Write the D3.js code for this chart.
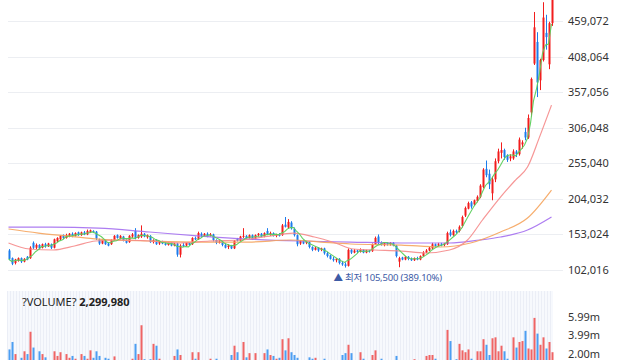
<!DOCTYPE html>
<html><head><meta charset="utf-8">
<script src="https://cdn.jsdelivr.net/npm/d3@7"></script>
<style>body{margin:0;background:#fff}svg{display:block}</style>
</head><body>
<svg id="chart" width="640" height="360"></svg>
<script>
// Daily candles [open, high, low, close], in thousands of KRW
const PRICE_UNIT = 1000;
const candles = [
[130,132,116,118],[119,120,109,111],[112,118,110,117],[115,120,114,119],[119,120,112,114],
[114,119,113,118],[121,122,116,117],[119,136,118,134],[141,143,132,134],[134,140,132,138],
[138,139,131,133],[134,140,133,139],[139,141,134,136],[136,141,135,140],[139,140,132,134],
[134,147,133,146],[143,149,142,148],[146,152,145,151],[152,153,146,148],[148,154,147,152],
[151,155,149,154],[154,156,149,151],[151,156,150,155],[156,157,151,152],[152,157,151,156],
[156,158,152,153],[153,160,152,158],[156,160,155,159],[158,159,155,157],[157,158,145,147],
[146,147,138,140],[140,146,139,145],[145,146,138,139],[140,142,136,137],[139,146,138,145],
[145,152,144,151],[152,153,147,148],[147,152,146,151],[150,151,143,144],[145,146,140,141],
[142,152,141,151],[150,155,148,153],[158,162,146,148],[148,153,147,152],[150,166,148,154],
[154,155,149,150],[149,153,147,152],[151,152,141,142],[142,146,140,145],[145,146,138,139],
[140,144,138,143],[143,144,139,140],[140,142,137,138],[138,142,137,141],[141,142,136,137],
[137,141,136,140],[140,141,121,124],[124,139,120,137],[138,141,135,136],[137,142,136,141],
[141,142,137,138],[139,149,138,148],[148,150,145,146],[146,157,145,155],[154,156,149,151],
[151,155,150,154],[154,156,149,150],[151,155,150,153],[153,154,143,145],[145,146,139,141],
[141,145,140,143],[143,144,136,138],[138,140,133,134],[135,139,132,137],[137,138,132,133],
[133,145,132,144],[147,148,143,144],[144,151,143,150],[150,162,148,151],[151,152,147,148],
[148,153,147,152],[152,153,145,146],[147,153,146,152],[152,155,150,154],[154,155,149,150],
[150,156,149,155],[158,162,152,153],[153,157,151,155],[155,156,150,151],[151,154,149,153],
[153,155,150,151],[152,168,151,166],[167,178,163,164],[163,175,161,171],[170,172,160,162],
[161,163,150,152],[152,153,136,139],[140,145,138,144],[144,145,139,140],[141,144,139,143],
[142,143,133,135],[135,136,129,131],[131,135,130,134],[134,135,128,130],[131,134,129,133],
[133,134,124,126],[126,128,120,122],[123,124,117,118],[118,121,114,116],[116,119,113,118],
[118,119,110,112],[112,115,108,110],[110,113,105.5,108],[108,133,107,131],[131,132,125,127],
[127,132,126,130],[130,131,126,128],[128,133,127,131],[131,132,126,127],[127,131,126,130],
[130,131,127,129],[129,140,128,139],[139,150,138,148],[150,153,139,141],[141,143,137,138],
[138,142,136,141],[141,142,137,139],[139,142,137,141],[141,142,136,137],[137,138,120,122],
[114,121,106,119],[120,121,116,117],[117,122,116,121],[121,122,116,118],[118,120,115,116],
[116,120,115,119],[119,121,116,117],[117,123,116,122],[122,129,121,127],[127,132,126,130],
[130,135,129,134],[133,141,132,139],[139,140,135,136],[137,141,136,139],[139,141,136,138],
[138,141,136,140],[139,157,138,155],[156,160,150,152],[152,160,151,158],[158,160,154,156],
[158,166,156,164],[165,180,163,178],[180,193,178,191],[190,200,189,198],[199,201,190,193],
[196,203,194,202],[201,209,199,207],[207,225,205,223],[221,248,219,246],[247,259,235,238],
[240,246,218,225],[212,236,202,232],[232,262,228,258],[258,276,255,272],[270,285,262,274],
[274,276,260,264],[266,268,257,260],[262,268,258,265],[262,275,260,272],[272,274,264,268],
[268,292,266,289],[282,288,276,285],[300,306,288,292],[292,325,290,320],[328,378,322,376],
[398,472,396,450],[429,443,350,371],[374,405,360,403],[403,486,401,464],[442,468,418,436],
[397,458,390,456],[456,522,452,516]
];

// Daily volume, millions of shares
const volumes = [
2.6,3.4,2.1,1.2,1.7,2.4,2.1,4.5,2.8,1.3,
2.4,2.1,1.75,1.1,1.3,2.4,1.9,2.3,1.2,2.1,
1.7,1.9,1.6,1.2,2.1,1.9,1.6,2.5,1.7,2.4,
1.9,1.3,1.7,1.6,1.2,1.85,1.1,1.3,1.2,1.0,
1.4,1.6,3.2,2.1,5.2,1.55,1.3,1.55,3.2,3.0,
1.6,1.2,1.0,1.1,1.3,1.9,2.6,2.0,1.2,1.1,
1.3,2.3,1.6,2.3,1.2,1.0,1.1,1.6,1.3,1.6,
1.2,1.1,1.3,1.2,2.0,3.0,2.3,1.3,3.4,1.75,
2.2,1.3,2.2,1.1,1.2,2.2,2.6,2.0,1.9,1.6,
1.7,3.7,2.5,3.8,2.3,2.0,1.7,1.2,1.1,1.3,
1.75,1.6,1.7,1.2,1.1,1.6,1.3,1.2,1.1,1.0,
1.2,2.0,2.2,3.1,2.2,1.3,1.2,2.3,1.6,1.1,
1.2,2.0,2.5,1.4,1.6,1.2,1.1,1.0,1.3,1.9,
1.4,1.1,1.0,1.2,1.1,1.55,1.0,1.3,1.4,1.9,
2.0,2.0,1.6,1.3,1.2,1.4,4.7,3.5,1.4,1.55,
3.2,2.5,2.3,2.6,1.6,1.4,2.4,2.4,3.7,3.1,
2.0,3.8,3.9,2.4,3.0,2.4,1.6,1.4,3.9,2.8,
3.4,3.5,4.6,2.7,2.6,5.99,4.3,3.1,3.9,2.7,
3.4,2.29998
];

// Moving averages: [candle index, value in thousands]
const ma20Idx = [0,7,15,22,29,37,47,57,67,77,87,95,102,109,115,122,131,139,147,153,158,164,169,173,177,181];
const ma20Val = [140.7,132.1,130.7,136.4,143.6,145.0,143.6,140.7,143.6,145.0,150.7,155.0,149.3,140.7,132.1,130.7,129.2,126.4,130.7,145.0,173.7,206.6,231.0,249.6,292.6,338.4];
const ma60Idx = [0,10,20,30,47,64,80,94,104,114,131,144,154,164,173,181];
const ma60Val = [160.8,155.0,150.7,146.4,143.6,142.1,142.1,145.0,142.1,139.3,137.8,135.0,140.7,156.5,176.5,216.6];
const ma120Idx = [0,14,30,47,64,80,97,114,131,147,157,164,173,181];
const ma120Val = [163.6,163.6,162.2,156.5,150.7,146.4,143.6,142.1,140.7,140.7,145.0,149.3,159.3,178.0];

const priceTicks = [102016,153024,204032,255040,306048,357056,408064,459072];

const svg = d3.select("#chart");
const RED = "#f21d1d", BLUE = "#1c7cec";

const x = d3.scaleBand().domain(d3.range(candles.length)).range([7, 553]);
const cx = i => x(i) + x.bandwidth() / 2;
const y = d3.scaleLinear().domain([102016, 459072]).range([270, 21]);
const yp = v => y(v * PRICE_UNIT);
const maxVol = d3.max(volumes);
const yv = d3.scaleLinear().domain([0, maxVol]).range([373.6, 317.9]);

// price grid
svg.append("g").selectAll("line").data(priceTicks).join("line")
  .attr("x1", 8).attr("x2", 563)
  .attr("y1", d => Math.round(y(d)) + 0.5).attr("y2", d => Math.round(y(d)) + 0.5)
  .attr("stroke", "#eceef2").attr("stroke-width", 1);

// price axis labels
const ax = svg.append("g").attr("transform", "translate(564,0)")
  .call(d3.axisRight(y).tickValues(priceTicks).tickSize(0).tickPadding(4).tickFormat(d3.format(",")));
ax.select(".domain").remove();
ax.selectAll("text").attr("font-family", "Noto Sans, sans-serif").attr("font-size", 11).attr("fill", "#333");

// volume panel
const vp = svg.append("g");
vp.append("rect").attr("x", 8).attr("y", 291).attr("width", 545).attr("height", 69).attr("fill", "#f7f9fd");
vp.selectAll("line.stripe").data(d3.range(candles.length)).join("line").attr("class", "stripe")
  .attr("x1", i => Math.round(x(i)) + 0.5).attr("x2", i => Math.round(x(i)) + 0.5)
  .attr("y1", 291).attr("y2", 360).attr("stroke", "#ebeef6").attr("stroke-width", 1);
vp.selectAll("rect.vol").data(volumes).join("rect").attr("class", "vol")
  .attr("x", (d, i) => Math.round(cx(i)) - 0.5).attr("width", 2)
  .attr("y", d => yv(d)).attr("height", d => yv(0) - yv(d))
  .attr("fill", (d, i) => candles[i][3] >= candles[i][0] ? "#f06464" : "#4c9ef2");

const volTicks = [1, 2, 3].map(k => maxVol * k / 3);
svg.append("g").selectAll("text").data(volTicks).join("text")
  .attr("x", 568).attr("y", d => yv(d) - 1).attr("dy", "0.35em")
  .attr("font-family", "Noto Sans, sans-serif").attr("font-size", 11).attr("fill", "#333")
  .text(d => d.toFixed(2) + "m");

const vt = svg.append("text").attr("x", 22).attr("y", 306)
  .attr("font-family", "Noto Sans, sans-serif").attr("font-size", 11).attr("fill", "#222");
vt.append("tspan").text("?VOLUME? ");
vt.append("tspan").attr("font-weight", "bold").text(d3.format(",")(Math.round(volumes[volumes.length - 1] * 1e6)));

// candles
const cg = svg.append("g");
cg.selectAll("line.wick").data(candles).join("line").attr("class", "wick")
  .attr("x1", (d, i) => Math.round(cx(i)) + 0.5).attr("x2", (d, i) => Math.round(cx(i)) + 0.5)
  .attr("y1", d => yp(d[1])).attr("y2", d => yp(d[2]))
  .attr("stroke", d => d[3] >= d[0] ? RED : BLUE).attr("stroke-width", 1);
cg.selectAll("rect.body").data(candles).join("rect").attr("class", "body")
  .attr("x", (d, i) => Math.round(cx(i)) - 0.5).attr("width", 2)
  .attr("y", d => yp(Math.max(d[0], d[3])))
  .attr("height", d => Math.max(1, Math.abs(yp(d[0]) - yp(d[3]))))
  .attr("fill", d => d[3] >= d[0] ? RED : BLUE);

// moving averages
const closes = candles.map(d => d[3]);
const ma5 = closes.map((c, i) => d3.mean(closes.slice(Math.max(0, i - 4), i + 1)));
const lineIdx = d3.line().x(d => cx(d[0])).y(d => yp(d[1])).curve(d3.curveMonotoneX);
const drawMA = (idx, val, color) => svg.append("path")
  .attr("d", lineIdx(idx.map((k, j) => [k, val[j]])))
  .attr("fill", "none").attr("stroke", color).attr("stroke-width", 1.2).attr("opacity", 0.9);
drawMA(ma120Idx, ma120Val, "#a46ff0");
drawMA(ma60Idx, ma60Val, "#f5a45d");
drawMA(ma20Idx, ma20Val, "#f58b8b");
svg.append("path")
  .attr("d", d3.line().x((d, i) => cx(i)).y(d => yp(d))(ma5))
  .attr("fill", "none").attr("stroke", "#5ccf5c").attr("stroke-width", 1.1).attr("opacity", 0.95);

// lowest price label
const lows = candles.map(d => d[2]);
const lowIdx = d3.minIndex(lows);
const low = lows[lowIdx] * PRICE_UNIT;
const last = closes[closes.length - 1] * PRICE_UNIT;
const pct = ((last / low - 1) * 100).toFixed(2);
svg.append("text")
  .attr("x", cx(lowIdx) - 11).attr("y", y(low) + 13.5)
  .attr("font-family", "Noto Sans, Noto Sans CJK KR, sans-serif").attr("font-size", 9.5)
  .attr("letter-spacing", -0.2)
  .attr("fill", "#3d5ba6")
  .text("▲ 최저 " + d3.format(",")(low) + " (" + pct + "%)");
</script>
</body></html>
